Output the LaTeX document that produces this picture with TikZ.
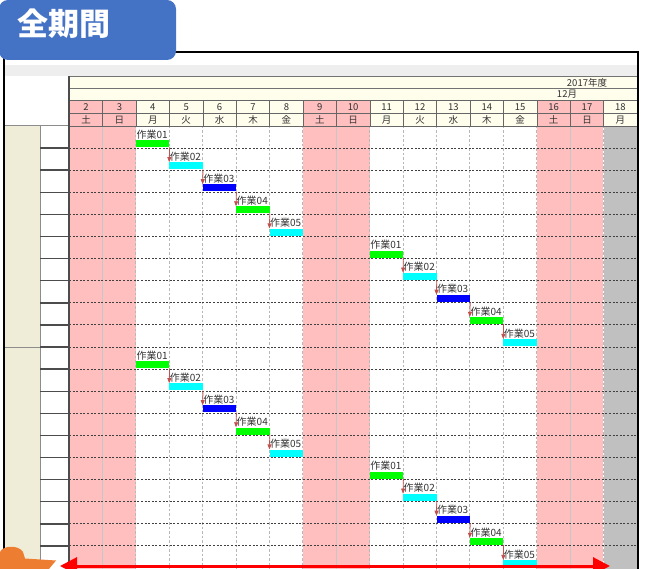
\documentclass[tikz,border=0pt]{standalone}
\usepackage{fontspec}
\setmainfont{Noto Sans CJK JP}
\usetikzlibrary{arrows.meta}
\definecolor{pinkc}{HTML}{FFBFBF}
\definecolor{creamc}{HTML}{FFFDEC}
\definecolor{leftc}{HTML}{EFEDD8}
\definecolor{titleblue}{HTML}{4472C4}
\definecolor{arrred}{HTML}{C0504D}
\definecolor{orangec}{HTML}{ED7D31}
\definecolor{grayband}{HTML}{EEEEEE}
\definecolor{colgray}{HTML}{C0C0C0}
\definecolor{barc0}{HTML}{00FF00}
\definecolor{barc1}{HTML}{00FFFF}
\definecolor{barc2}{HTML}{0000FF}
\definecolor{barc3}{HTML}{00FF00}
\definecolor{barc4}{HTML}{00FFFF}
\definecolor{txtc}{HTML}{333333}
\tikzset{
  hcell/.style={draw=black!60, line width=0.6pt, minimum width=33.4pt, minimum height=12.8pt,
    inner sep=0pt, anchor=north west, text=txtc, font=\fontsize{9.5}{10}\selectfont},
  barbox/.style={minimum width=33.4pt, minimum height=7pt, inner sep=0pt, anchor=north west},
  lbl/.style={inner sep=0pt, anchor=base west, text=txtc, font=\fontsize{10}{10}\selectfont},
  dep/.style={draw=arrred, line width=0.8pt, -{Triangle[length=5pt,width=4pt]}},
  rowline/.style={draw=black!75, line width=0.9pt, dash pattern=on 2pt off 1.6pt},
  colline/.style={draw=black!28, line width=0.7pt, dash pattern=on 2.5pt off 2pt},
  pinkline/.style={draw=black!22, line width=0.8pt},
  bigarrow/.style={draw=red, line width=3pt, {Triangle[length=17pt,width=17pt]}-{Triangle[length=17pt,width=17pt]}},
}
\begin{document}
\begin{tikzpicture}[x=1pt,y=-1pt]
\useasboundingbox (0,0) rectangle (647,569);
% gray band and header
\fill[grayband] (5,65) rectangle (637,76.5);
\fill[white] (5,76.5) rectangle (69,126);
\node[draw=black!55, fill=creamc, line width=0.6pt, minimum width=568pt, minimum height=12pt, anchor=north west, inner sep=0pt] (yr) at (69,76.5) {};
\node[draw=black!55, fill=creamc, line width=0.6pt, minimum width=568pt, minimum height=12pt, anchor=north west, inner sep=0pt] (mo) at (69,88.5) {};
\node[text=txtc, font=\fontsize{9.5}{10}\selectfont, inner sep=0pt] (yrt) at (587,82.5) {2017年度};
\node[text=txtc, font=\fontsize{9.5}{10}\selectfont, inner sep=0pt] (mot) at (567,94.5) {12月};
% left columns
\fill[leftc] (5,126) rectangle (40,569);
\fill[white] (40,126) rectangle (69,569);
\draw[black!45, line width=1pt] (5,347) -- (40,347);
\draw[black!45, line width=1pt] (5,126) -- (69,126);
\draw[black!45, line width=1pt] (40,126) -- (40,569);
\foreach \r in {1,...,19}{
  \pgfmathsetmacro\yy{126+22.1*\r}
  \draw[black!70, line width=1.4pt] (40,\yy) -- (69,\yy);
}
% body fills
\foreach \c in {0,1,7,8,14,15}{
  \pgfmathsetmacro\xa{69+33.4*\c}
  \fill[pinkc] (\xa,126) rectangle ++(33.4,443);
}
\fill[colgray] (603.8,126) rectangle (637,569);
% vertical lines
\foreach \b in {2,3,4,5,6,7,9,10,11,12,13,14,16}{
  \pgfmathsetmacro\xa{69+33.4*\b}
  \draw[colline] (\xa,126) -- (\xa,569);
}
\foreach \b in {1,8,15}{
  \pgfmathsetmacro\xa{69+33.4*\b}
  \draw[pinkline] (\xa,126) -- (\xa,569);
}
% row lines
\foreach \r in {1,...,19}{
  \pgfmathsetmacro\yy{126+22.1*\r}
  \draw[rowline] (69,\yy) -- (637,\yy);
}
% header cells
\foreach \w/\fc [count=\i from 0] in {土/pinkc,日/pinkc,月/creamc,火/creamc,水/creamc,木/creamc,金/creamc,土/pinkc,日/pinkc,月/creamc,火/creamc,水/creamc,木/creamc,金/creamc,土/pinkc,日/pinkc,月/creamc}{
  \pgfmathsetmacro\xa{69+33.4*\i}
  \pgfmathtruncatemacro\dd{\i+2}
  \node[hcell, fill=\fc] (n\i) at (\xa,100.5) {\dd};
  \node[hcell, fill=\fc] (w\i) at (\xa,113.3) {\w};
}
\draw[black!70, line width=1.4pt] (69,76.5) -- (69,569);
% task bars
\foreach \r in {0,...,19}{
  \pgfmathtruncatemacro\k{mod(\r,10)}
  \pgfmathtruncatemacro\c{\k<5 ? \k+2 : \k+4}
  \pgfmathtruncatemacro\m{mod(\k,5)}
  \pgfmathtruncatemacro\nn{\m+1}
  \pgfmathsetmacro\xa{69+33.4*\c}
  \pgfmathsetmacro\yt{126+22.1*\r}
  \node[barbox, fill=barc\m] (b\r) at (\xa,\yt+14) {};
  \node[lbl] (l\r) at (\xa+0.5,\yt+12.2) {作業0\nn};
}
\foreach \r in {0,...,18}{
  \pgfmathtruncatemacro\m{mod(\r,5)}
  \pgfmathtruncatemacro\nx{\r+1}
  \ifnum\m<4
    \draw[dep] (b\r.south east) -- (b\nx.north west);
  \fi
}
% frame
\draw[black, line width=2pt] (4,575) -- (4,52.5) -- (638,52.5) -- (638,575);
% title
\fill[titleblue, rounded corners=9pt] (-1,0) rectangle (176,60);
\node[text=white, font=\fontsize{31}{31}\selectfont\bfseries, inner sep=0pt] (title) at (64,23.5) {全期間};
% orange callout
\fill[orangec] (0,575) -- (0,552) .. controls (2,546) and (18,544) .. (23,552) -- (25,558.5) -- (56,560.5) -- (44,575) -- cycle;
% red span arrow
\coordinate (ra) at (60,566);
\coordinate (rb) at (610,566);
\draw[bigarrow] (ra) -- (rb);
\end{tikzpicture}
\end{document}
